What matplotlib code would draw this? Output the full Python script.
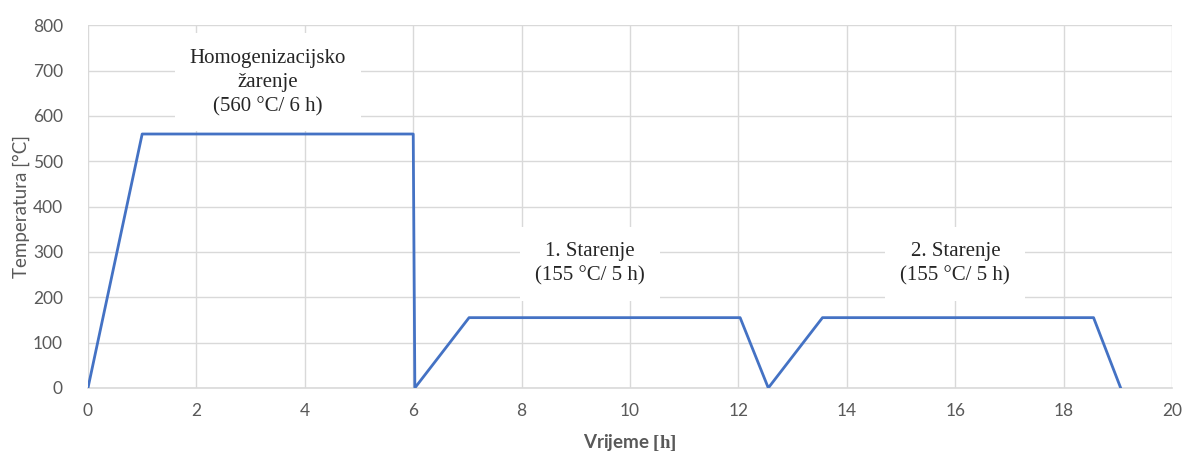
import numpy as np
import matplotlib.pyplot as plt

# Podaci: režim toplinske obrade
vrijeme = [0, 1, 6, 6.03, 7.03, 12.03, 12.55, 13.55, 18.55, 19.05]
temperatura = [0, 560, 560, 0, 155, 155, 0, 155, 155, 0]

oznake = ["Homogenizacijsko\nžarenje\n(560 °C/ 6 h)",
          "1. Starenje\n(155 °C/ 5 h)",
          "2. Starenje\n(155 °C/ 5 h)"]
oznake_x = [3.32, 9.26, 16.0]
oznake_y = [674, 273, 273]

siva = '#595959'
mreza = '#d9d9d9'

plt.rcParams['mathtext.fontset'] = 'custom'
plt.rcParams['mathtext.bf'] = 'Liberation Serif:bold'

fig = plt.figure(figsize=(11.84, 4.58), dpi=100)
ax = fig.add_axes([0.0743, 0.153, 0.9157, 0.792])

ax.plot(vrijeme, temperatura, color='#4472C4', linewidth=2.0, zorder=3)

for tekst, x, y in zip(oznake, oznake_x, oznake_y):
    ax.text(x, y, tekst, ha='center', va='center', fontsize=15,
            family='Liberation Serif', color='#262626', linespacing=1.35,
            bbox=dict(facecolor='white', edgecolor='none', pad=11), zorder=4)

ax.set_xlim(0, 20)
ax.set_ylim(0, 800)
ax.set_xticks(np.arange(0, 21, 2))
ax.set_yticks(np.arange(0, 801, 100))
ax.grid(True, color=mreza, linewidth=1)
ax.set_axisbelow(True)

for s in ['top', 'right', 'left']:
    ax.spines[s].set_visible(False)
ax.spines['bottom'].set_color(mreza)
ax.spines['bottom'].set_linewidth(1.2)
ax.tick_params(length=0, colors=siva, labelsize=12.5)
ax.tick_params(axis='x', pad=11)
ax.tick_params(axis='y', pad=18)
for lab in ax.get_xticklabels() + ax.get_yticklabels():
    lab.set_family('Lato')

ax.set_xlabel(r'Vrijeme $\mathbf{[h]}$', fontsize=13.5, fontweight='bold',
              family='Lato', color=siva, labelpad=9)
ax.set_ylabel('Temperatura [°C]', fontsize=13.5, family='Lato', color=siva, labelpad=2)

fig.savefig('out.png', dpi=100)
